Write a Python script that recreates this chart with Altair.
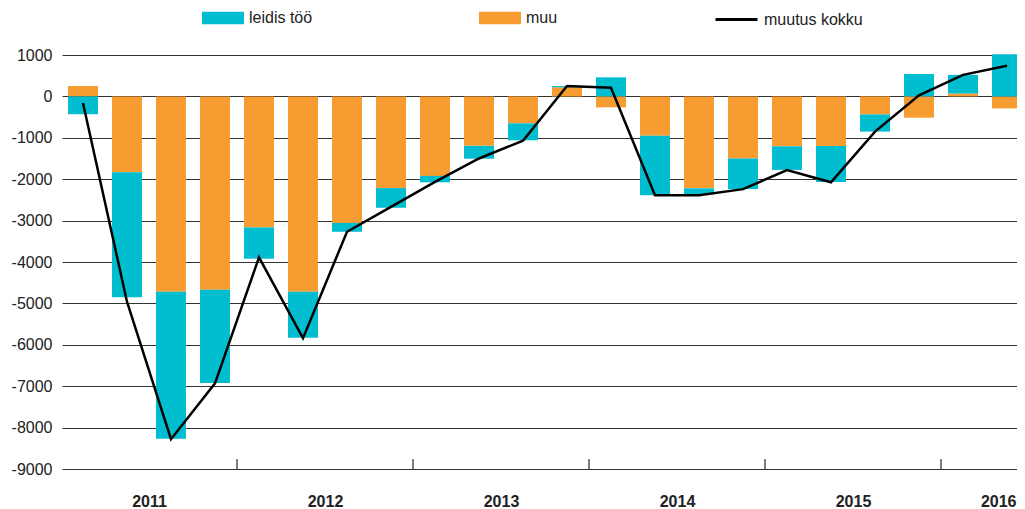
import altair as alt
import pandas as pd

quarters = [f"{y}Q{q}" for y in range(2011, 2017) for q in range(1, 5)][:22]
muu = [250, -1830, -4720, -4670, -3165, -4720, -3055, -2215, -1920, -1195, -650,
       220, -265, -950, -2220, -1500, -1205, -1200, -435, -515, 70, -290]
leidis = [-430, -3020, -3550, -2250, -755, -1110, -215, -475, -155, -310, -410,
          30, 460, -1435, -145, -740, -570, -870, -415, 540, 450, 1020]
kokku = [-160, -4960, -8280, -6930, -3890, -5840, -3270, -2670, -2065, -1500, -1070,
         250, 210, -2385, -2385, -2240, -1780, -2075, -850, 25, 520, 740]
years = ["2011", "2012", "2013", "2014", "2015", "2016"]
year_label_pos = [1.5, 5.5, 9.5, 13.5, 17.5, 20.8]
year_dividers = [3.5, 7.5, 11.5, 15.5, 19.5]

CYAN = "#00bdd0"
ORANGE = "#f79c30"
FONT = "Liberation Sans"

rows = []
for i, q in enumerate(quarters):
    rows.append({"i": i, "q": q, "series": "muu", "ord": 0, "v": muu[i]})
    rows.append({"i": i, "q": q, "series": "leidis töö", "ord": 1, "v": leidis[i]})
bars_df = pd.DataFrame(rows)
line_df = pd.DataFrame({"i": list(range(len(quarters))), "q": quarters, "v": kokku,
                        "name": ["muutus kokku"] * len(quarters)})
div_df = pd.DataFrame({"x": year_dividers})

label_map = "{" + ",".join(f"'{p}':'{y}'" for p, y in zip(year_label_pos, years)) + "}"

xscale = alt.Scale(domain=[-0.477, 21.227], nice=False, zero=False, padding=0)
yscale = alt.Scale(domain=[-9000, 1000], nice=False, padding=0)

xaxis = alt.Axis(values=year_label_pos, labelExpr=f"{label_map}[toString(datum.value)]",
                 title=None, grid=False, domain=False, ticks=False, labelFont=FONT,
                 labelFontSize=16, labelFontWeight="bold", labelColor="#222",
                 labelPadding=24, labelFlush=False, labelOverlap=False)
yaxis = alt.Axis(values=list(range(-9000, 1001, 1000)), labelExpr="datum.value + ''",
                 title=None, grid=True, gridColor="#333", gridWidth=1, domain=False,
                 ticks=False, labelFont=FONT, labelFontSize=16, labelColor="#222",
                 labelPadding=10)

bars = alt.Chart(bars_df).mark_bar(size=30).encode(
    x=alt.X("i:Q", scale=xscale, axis=xaxis),
    y=alt.Y("v:Q", scale=yscale, axis=yaxis, stack="zero"),
    fill=alt.Fill("series:N",
                  scale=alt.Scale(domain=["leidis töö", "muu"], range=[CYAN, ORANGE]),
                  legend=alt.Legend(orient="none", legendX=140, legendY=-58,
                                    direction="horizontal", title=None, padding=0,
                                    symbolType="M-1,-0.3L1,-0.3L1,0.3L-1,0.3Z",
                                    symbolSize=1764, symbolStrokeWidth=0,
                                    labelFont=FONT, labelFontSize=16, labelColor="#222",
                                    labelOffset=5, columnPadding=166)),
    order=alt.Order("ord:Q"),
)

line = alt.Chart(line_df).mark_line(strokeWidth=2.5).encode(
    x=alt.X("i:Q", scale=xscale),
    y=alt.Y("v:Q", scale=yscale),
    stroke=alt.Stroke("name:N", scale=alt.Scale(domain=["muutus kokku"], range=["#000"]),
                      legend=alt.Legend(orient="none", legendX=652, legendY=-58,
                                        title=None, padding=0, symbolType="stroke",
                                        symbolSize=1764, symbolStrokeWidth=3,
                                        labelFont=FONT, labelFontSize=16,
                                        labelColor="#222", labelOffset=5)),
)

dividers = alt.Chart(div_df).mark_rule(color="#000", strokeWidth=1).encode(
    x=alt.X("x:Q", scale=xscale),
    y=alt.datum(-9000),
    y2=alt.datum(-8760),
)

chart = alt.layer(bars, line, dividers).resolve_legend(fill="independent", stroke="independent").properties(
    width=955, height=414,
    autosize=alt.AutoSizeParams(type="none"),
    padding={"left": 54, "top": 47, "right": 0, "bottom": 40},
).configure_view(stroke=None)

chart.save("out.html", embed_options={"renderer": "svg", "actions": False})
